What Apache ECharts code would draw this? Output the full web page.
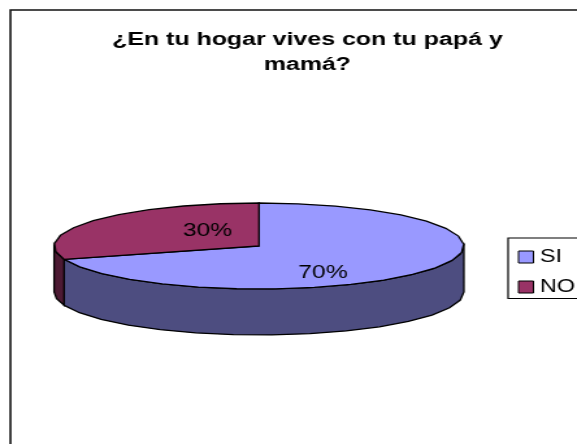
<!DOCTYPE html>
<html><head><meta charset="utf-8">
<style>html,body{margin:0;padding:0;background:#fff;overflow:hidden;width:577px;height:444px}
#c{width:444px;height:444px;transform:scaleX(1.2995);transform-origin:0 0}</style>
<script src="https://cdn.jsdelivr.net/npm/echarts@6/dist/echarts.min.js"></script>
</head><body><div id="c"></div>
<script>
const categories = ['SI', 'NO'];
const values = [70, 30];
const topColors = ['#9999FF', '#993366'];
const wallColors = ['#4D4D80', '#4D1A33'];
const titleLines = ['¿En tu hogar vives con tu papá y', 'mamá?'];
// label placement as fraction of radius along the slice's mid-angle (x, y)
const labelFrac = [[0.386, 1.07], [0.31, 0.6]];

const cx = 199.3, cy = 246, rx = 157.7, ry = 43, depth = 46, stepDeg = 11;
const total = values.reduce((a, b) => a + b, 0);
const pt = (deg, dy) => {
  const a = deg * Math.PI / 180;
  return [cx + rx * Math.sin(a), cy - ry * Math.cos(a) + (dy || 0)];
};
const arc = (from, to, dy) => {
  const out = [];
  const n = Math.max(1, Math.ceil((to - from) / stepDeg));
  for (let i = 0; i <= n; i++) out.push(pt(from + (to - from) * i / n, dy));
  return out;
};
const render = idx => (params, api) => {
  const start = values.slice(0, idx).reduce((a, b) => a + b, 0) / total * 360;
  const end = start + api.value(0) / total * 360;
  const line = { stroke: '#000', lineWidth: 1.3 };
  const children = [];
  const wFrom = Math.max(start, 90), wTo = Math.min(end, 270);
  if (wTo > wFrom) {
    const topEdge = arc(wFrom, wTo, 0);
    const botEdge = arc(wFrom, wTo, depth).reverse();
    children.push({ type: 'polygon', shape: { points: topEdge.concat(botEdge) },
      style: Object.assign({ fill: wallColors[idx] }, line) });
  }
  children.push({ type: 'polygon', shape: { points: [[cx, cy]].concat(arc(start, end, 0)) },
    style: Object.assign({ fill: topColors[idx] }, line) });
  const mid = (start + end) / 2 * Math.PI / 180;
  children.push({ type: 'text',
    x: cx + rx * labelFrac[idx][0] * Math.sin(mid),
    y: cy - ry * labelFrac[idx][1] * Math.cos(mid),
    style: { text: api.value(0) + '%', fill: '#000', font: '19px "Liberation Sans"', align: 'center', verticalAlign: 'middle' } });
  return { type: 'group', children };
};

const chart = echarts.init(document.getElementById('c'), null, { renderer: 'canvas' });
chart.setOption({
  animation: false,
  backgroundColor: '#fff',
  title: { text: titleLines.join('\n'), left: 231.5, top: 22, textAlign: 'center',
    textStyle: { fontFamily: 'Liberation Sans', fontWeight: 'bold', fontSize: 19.2, lineHeight: 25, color: '#000' } },
  legend: { data: categories, orient: 'vertical', left: 391, top: 238, padding: [10, 8, 2.5, 7.5], itemGap: 12,
    itemWidth: 11.5, itemHeight: 12, itemStyle: { borderColor: '#000', borderWidth: 1 }, icon: 'rect',
    borderColor: '#000', borderWidth: 1.2, backgroundColor: '#fff', selectedMode: false,
    textStyle: { fontFamily: 'Liberation Sans', fontSize: 18, color: '#000' } },
  graphic: [{ type: 'rect', z: -1, silent: true, shape: { x: 8, y: 10, width: 500, height: 500 },
    style: { fill: 'none', stroke: '#111', lineWidth: 1.6 } }],
  series: categories.map((name, i) => ({
    type: 'custom', name, coordinateSystem: 'none',
    itemStyle: { color: topColors[i] },
    data: [[values[i]]], renderItem: render(i), silent: true
  }))
});
</script></body></html>
